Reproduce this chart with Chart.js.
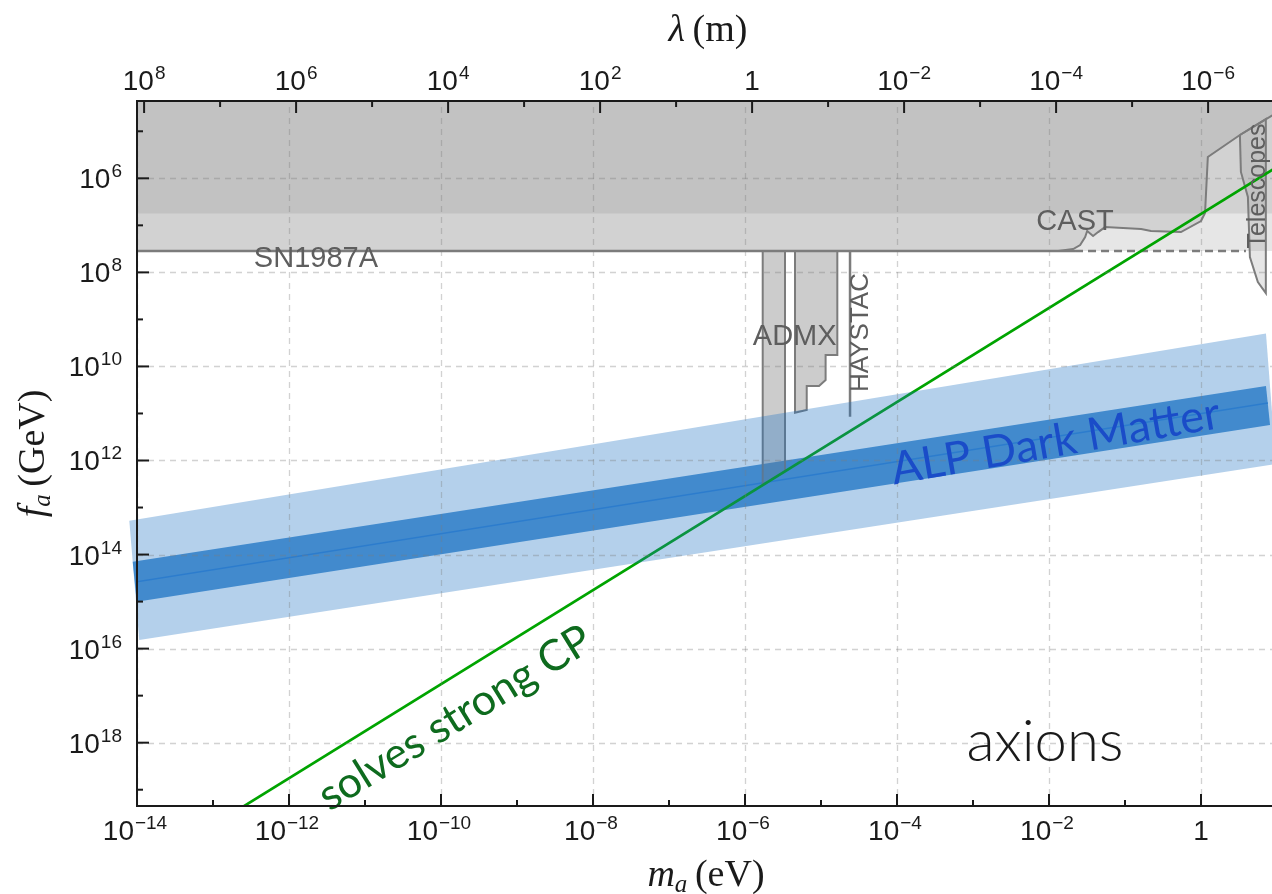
<!DOCTYPE html>
<html>
<head>
<meta charset="utf-8">
<title>Axion parameter space</title>
<script src="https://cdn.jsdelivr.net/npm/chart.js@4.4.1/dist/chart.umd.min.js"></script>
<style>
  html, body { margin: 0; padding: 0; background: #fff; overflow: hidden; }
  #wrap { width: 1277px; height: 894px; }
</style>
</head>
<body>
<div id="wrap"><canvas id="axionChart" width="1277" height="894"></canvas></div>
<script>
// hc in eV*m, converts m_a (eV) to wavelength (m) for the top axis
var HC = 1.23984e-6;

// axis ranges: m_a in eV, f_a in GeV
var massRange = [1e-14, 10];
var faRange = [2.27e4, 2.22e19];

// labelled decades
var massTickExp = [-14, -12, -10, -8, -6, -4, -2, 0];
var lambdaTickExp = [8, 6, 4, 2, 0, -2, -4, -6];
var faTickExp = [6, 8, 10, 12, 14, 16, 18];

// QCD axion line, f_a ~ 5.7e6 GeV (eV / m_a)
var qcdMass = [1e-14, 10];
var qcdFa = [5.7e20, 5.7e5];

// excluded strip at small f_a
var bandMass = [1e-14, 10, 10, 1e-14];
var bandFa = [1e3, 1e3, 5.6e6, 5.6e6];

// SN1987A bound
var snFa = 3.52e7;
var snSolidMass = [1e-14, 2.2e-2];
var snDashMass = [2.2e-2, 3.9];

// CAST helioscope limit
var castMass = [1.32e-2, 2.08e-2, 2.57e-2, 2.99e-2, 3.18e-2, 3.80e-2, 4.43e-2, 5.47e-2, 0.163, 0.220, 0.545, 1.00, 1.13, 1.23, 3.25, 8.05, 10];
var castFa = [3.52e7, 3.19e7, 2.62e7, 1.77e7, 1.32e7, 1.69e7, 1.39e7, 1.09e7, 1.20e7, 1.32e7, 1.39e7, 8.09e6, 5.47e6, 3.52e5, 1.20e5, 4.95e4, 4.0e4];

// telescope searches
var telMass = [3.25, 3.35, 4.14, 4.40, 5.60, 7.13, 7.13, 3.25];
var telFa = [1.20e5, 7.33e5, 2.49e6, 4.71e7, 1.60e8, 2.75e8, 5.5e4, 1.20e5];

// haloscopes
var admx1Mass = [1.71e-6, 1.71e-6, 3.36e-6, 3.36e-6, 1.71e-6];
var admx1Fa = [3.52e7, 3.33e12, 1.70e12, 3.52e7, 3.52e7];
var admx2Mass = [4.55e-6, 4.55e-6, 6.49e-6, 6.49e-6, 9.42e-6, 1.15e-5, 1.15e-5, 1.64e-5, 1.64e-5, 4.55e-6];
var admx2Fa = [3.52e7, 9.64e10, 8.45e10, 2.61e10, 2.61e10, 1.95e10, 5.71e9, 5.71e9, 3.52e7, 3.52e7];
var haystacMass = [2.41e-5, 2.41e-5];
var haystacFa = [3.52e7, 1.17e11];

// ALP dark matter band
var alpOuterMass = [7.92e-15, 7.16, 9.7, 1.07e-14];
var alpOuterFa = [1.91e13, 2.0e9, 1.19e12, 6.56e15];
var alpInnerMass = [8.78e-15, 7.16, 8.1, 9.91e-15];
var alpInnerFa = [1.42e14, 2.6e10, 1.75e11, 1.01e15];
var alpMidMass = [9.91e-15, 7.6];
var alpMidFa = [3.78e14, 5.97e10];

function pts(xs, ys) {
  return xs.map(function(x, i) { return { x: x, y: ys[i] }; });
}

var GRAY_LAYER = 'rgba(128,128,128,0.2)';
var EDGE = '#7c7c7c';

function area(data, color, order, extra) {
  var ds = { data: data, areaColor: color, showLine: false, pointRadius: 0, borderWidth: 0, order: order };
  for (var k in extra) ds[k] = extra[k];
  return ds;
}
function curve(data, color, width, order, extra) {
  var ds = { data: data, showLine: true, borderColor: color, borderWidth: width, pointRadius: 0, fill: false, tension: 0, order: order };
  for (var k in extra) ds[k] = extra[k];
  return ds;
}

var datasets = [
  area(pts(bandMass, bandFa), GRAY_LAYER, 100),
  area(pts([1e-14, 10, 10, 1e-14], [1e3, 1e3, snFa, snFa]), GRAY_LAYER, 99),
  area(pts([1e-14, 1e-14].concat(castMass, [10]), [1e3, snFa].concat(castFa, [1e3])), GRAY_LAYER, 98),
  area(pts(telMass, telFa), GRAY_LAYER, 97),
  curve(pts(telMass, telFa), EDGE, 2, 96),
  curve(pts(castMass, castFa), EDGE, 2, 95),
  curve(pts(snSolidMass, [snFa, snFa]), EDGE, 2.5, 94),
  curve(pts(snDashMass, [snFa, snFa]), EDGE, 2.5, 93, { borderDash: [8, 5] }),
  area(pts(alpInnerMass, alpInnerFa), 'rgb(84,151,211)', 90, { clip: false }),
  curve(pts(alpMidMass, alpMidFa), 'rgb(52,130,210)', 1.5, 89),
  area(pts(admx1Mass, admx1Fa), 'rgba(128,128,128,0.4)', 88),
  curve(pts(admx1Mass, admx1Fa), EDGE, 2, 87),
  area(pts(admx2Mass, admx2Fa), 'rgba(128,128,128,0.4)', 86),
  curve(pts(admx2Mass, admx2Fa), EDGE, 2, 85),
  curve(pts(haystacMass, haystacFa), EDGE, 2.5, 84),
  curve(pts(qcdMass, qcdFa), '#00a400', 2.7, 80),
  area(pts(alpOuterMass, alpOuterFa), 'rgba(30,114,195,0.333)', 70, { clip: false })
];

// fills each polygon dataset from the points the scales placed
var polyFill = {
  id: 'polyFill',
  beforeDatasetDraw: function(chart, args) {
    var ds = chart.data.datasets[args.index];
    if (!ds.areaColor) return;
    var ctx = chart.ctx, a = chart.chartArea, p = args.meta.data;
    ctx.save();
    if (ds.clip !== false) {
      ctx.beginPath();
      ctx.rect(a.left, a.top, a.right - a.left, a.bottom - a.top);
      ctx.clip();
    }
    ctx.beginPath();
    for (var i = 0; i < p.length; i++) {
      if (i === 0) ctx.moveTo(p[i].x, p[i].y); else ctx.lineTo(p[i].x, p[i].y);
    }
    ctx.closePath();
    ctx.fillStyle = ds.areaColor;
    ctx.fill();
    ctx.restore();
  }
};

var SANS = '"Liberation Sans", Arial, sans-serif';
var SERIF = '"Liberation Serif", "Times New Roman", serif';
var INK = '#1a1a1a';

function powerLabel(ctx, exp, x, y, align) {
  var base = exp === 0 ? '1' : '10';
  var sup = exp === 0 ? '' : (exp < 0 ? '\u2212' + (-exp) : String(exp));
  ctx.font = '28px ' + SANS;
  var wb = ctx.measureText(base).width;
  ctx.font = '19px ' + SANS;
  var ws = sup ? ctx.measureText(sup).width + 1 : 0;
  var total = wb + ws;
  var x0 = align === 'right' ? x - total : x - total / 2;
  ctx.textAlign = 'left';
  ctx.textBaseline = 'alphabetic';
  ctx.fillStyle = INK;
  ctx.font = '28px ' + SANS;
  ctx.fillText(base, x0, y);
  if (sup) {
    ctx.font = '19px ' + SANS;
    ctx.fillText(sup, x0 + wb + 1, y - 11);
  }
}

// draws a run of differently styled pieces centred on (cx, baseline)
function titleRun(ctx, parts, cx, baseline) {
  var total = 0;
  parts.forEach(function(p) { ctx.font = p.font; p.w = ctx.measureText(p.t).width; total += p.w; });
  var x = cx - total / 2;
  ctx.textAlign = 'left';
  ctx.textBaseline = 'alphabetic';
  parts.forEach(function(p) { ctx.font = p.font; ctx.fillText(p.t, x, baseline + (p.dy || 0)); x += p.w; });
}

var labels = [
  { text: 'SN1987A', m: 2.26e-12, fa: 7.69e7, font: '29px ' + SANS, color: '#5e5e5e', rot: 0, base: 'alphabetic' },
  { text: 'CAST', m: 2.20e-2, fa: 1.26e7, font: '29px ' + SANS, color: '#5e5e5e', rot: 0, base: 'alphabetic' },
  { text: 'ADMX', m: 4.51e-6, fa: 3.51e9, font: '29px ' + SANS, color: '#5e5e5e', rot: 0, base: 'alphabetic' },
  { text: 'HAYSTAC', m: 4.15e-5, fa: 1.90e9, font: '26px ' + SANS, color: '#5e5e5e', rot: -90, base: 'alphabetic' },
  { text: 'Telescopes', m: 6.89, fa: 1.46e6, font: '25px ' + SANS, color: '#5e5e5e', rot: -90, base: 'alphabetic' },
  { text: 'ALP Dark Matter', m: 1.22e-2, fa: 4.0e11, font: '45px Lato, "Open Sans", sans-serif', color: '#1a4cc8', rot: -9.8, base: 'middle' },
  { text: 'solves strong CP', m: 1.53e-10, fa: 2.99e17, font: '43px Lato, "Open Sans", sans-serif', color: '#0e6b1e', rot: -31.7, base: 'middle' },
  { text: 'axions', m: 8.85e-3, fa: 9.7e17, font: '300 58px Lato, "Open Sans", sans-serif', color: '#1a1a1a', rot: 0, base: 'middle' }
];

var frame = {
  id: 'frame',
  afterDatasetsDraw: function(chart) {
    var ctx = chart.ctx, a = chart.chartArea;
    var sx = chart.scales.x, sy = chart.scales.y;
    // dashed grid at labelled decades
    ctx.save();
    ctx.beginPath();
    ctx.rect(a.left, a.top, a.right - a.left, a.bottom - a.top);
    ctx.clip();
    ctx.strokeStyle = 'rgba(123,123,123,0.34)';
    ctx.lineWidth = 1.3;
    ctx.setLineDash([6, 5]);
    massTickExp.forEach(function(e) {
      var x = Math.round(sx.getPixelForValue(Math.pow(10, e))) + 0.5;
      ctx.beginPath(); ctx.moveTo(x, a.bottom); ctx.lineTo(x, a.top); ctx.stroke();
    });
    faTickExp.forEach(function(e) {
      var y = Math.round(sy.getPixelForValue(Math.pow(10, e))) + 0.5;
      ctx.beginPath(); ctx.moveTo(a.left, y); ctx.lineTo(a.right, y); ctx.stroke();
    });
    ctx.restore();

    // region labels
    labels.forEach(function(l) {
      ctx.save();
      ctx.translate(sx.getPixelForValue(l.m), sy.getPixelForValue(l.fa));
      ctx.rotate(l.rot * Math.PI / 180);
      ctx.font = l.font;
      ctx.fillStyle = l.color;
      ctx.textAlign = 'center';
      ctx.textBaseline = l.base;
      ctx.fillText(l.text, 0, 0);
      ctx.restore();
    });
  },
  afterDraw: function(chart) {
    var ctx = chart.ctx, a = chart.chartArea;
    var sx = chart.scales.x, sx2 = chart.scales.x2, sy = chart.scales.y;
    ctx.save();
    ctx.strokeStyle = INK;
    ctx.lineWidth = 2;
    ctx.setLineDash([]);
    ctx.beginPath();
    ctx.moveTo(a.right, a.top); ctx.lineTo(a.left, a.top);
    ctx.lineTo(a.left, a.bottom); ctx.lineTo(a.right, a.bottom);
    ctx.stroke();

    // inward ticks, every decade, longer on the labelled ones
    var e, x, y, len;
    for (e = -14; e <= 1; e++) {
      x = sx.getPixelForValue(Math.pow(10, e));
      len = (e % 2 === 0) ? 12 : 6;
      ctx.beginPath(); ctx.moveTo(x, a.bottom); ctx.lineTo(x, a.bottom - len); ctx.stroke();
    }
    for (e = 8; e >= -7; e--) {
      x = sx2.getPixelForValue(Math.pow(10, e));
      if (x < a.left || x > a.right) continue;
      len = (e % 2 === 0) ? 12 : 6;
      ctx.beginPath(); ctx.moveTo(x, a.top); ctx.lineTo(x, a.top + len); ctx.stroke();
    }
    for (e = 5; e <= 19; e++) {
      y = sy.getPixelForValue(Math.pow(10, e));
      len = (e % 2 === 0) ? 12 : 6;
      ctx.beginPath(); ctx.moveTo(a.left, y); ctx.lineTo(a.left + len, y); ctx.stroke();
    }

    massTickExp.forEach(function(e) {
      powerLabel(ctx, e, sx.getPixelForValue(Math.pow(10, e)) - (e === 0 ? 0 : 2), a.bottom + 34, 'center');
    });
    lambdaTickExp.forEach(function(e) {
      powerLabel(ctx, e, sx2.getPixelForValue(Math.pow(10, e)), a.top - 11, 'center');
    });
    faTickExp.forEach(function(e) {
      powerLabel(ctx, e, a.left - 15, sy.getPixelForValue(Math.pow(10, e)) + 10, 'right');
    });

    // axis titles
    ctx.fillStyle = INK;
    var cx = (a.left + 1279) / 2;
    titleRun(ctx, [
      { t: '\u03bb', font: 'italic 38px ' + SERIF },
      { t: '\u2009(m)', font: '38px ' + SERIF }
    ], cx, 41);
    titleRun(ctx, [
      { t: 'm', font: 'italic 38px ' + SERIF },
      { t: 'a', font: 'italic 25px ' + SERIF, dy: 6 },
      { t: '\u2009(eV)', font: '38px ' + SERIF }
    ], cx - 2, 886);
    ctx.translate(44, (a.top + a.bottom) / 2);
    ctx.rotate(-Math.PI / 2);
    titleRun(ctx, [
      { t: 'f', font: 'italic 38px ' + SERIF },
      { t: 'a', font: 'italic 25px ' + SERIF, dy: 6 },
      { t: '\u2009(GeV)', font: '38px ' + SERIF }
    ], 0, 0);
    ctx.restore();
  }
};

new Chart(document.getElementById('axionChart'), {
  type: 'scatter',
  data: { datasets: datasets },
  plugins: [polyFill, frame],
  options: {
    responsive: false,
    animation: false,
    devicePixelRatio: 1,
    layout: { padding: 0 },
    plugins: { legend: { display: false }, tooltip: { enabled: false } },
    scales: {
      x: {
        type: 'logarithmic', position: 'bottom', bounds: 'data',
        min: massRange[0], max: massRange[1],
        grid: { display: false }, border: { display: false }, ticks: { display: false },
        afterFit: function(s) { s.height = 88; }
      },
      x2: {
        type: 'logarithmic', position: 'top', bounds: 'data', reverse: true,
        min: HC / massRange[1], max: HC / massRange[0],
        grid: { display: false }, border: { display: false }, ticks: { display: false },
        afterFit: function(s) { s.height = 101; }
      },
      y: {
        type: 'logarithmic', position: 'left', bounds: 'data', reverse: true,
        min: faRange[0], max: faRange[1],
        grid: { display: false }, border: { display: false }, ticks: { display: false },
        afterFit: function(s) { s.width = 137; }
      }
    }
  }
});
</script>
</body>
</html>
